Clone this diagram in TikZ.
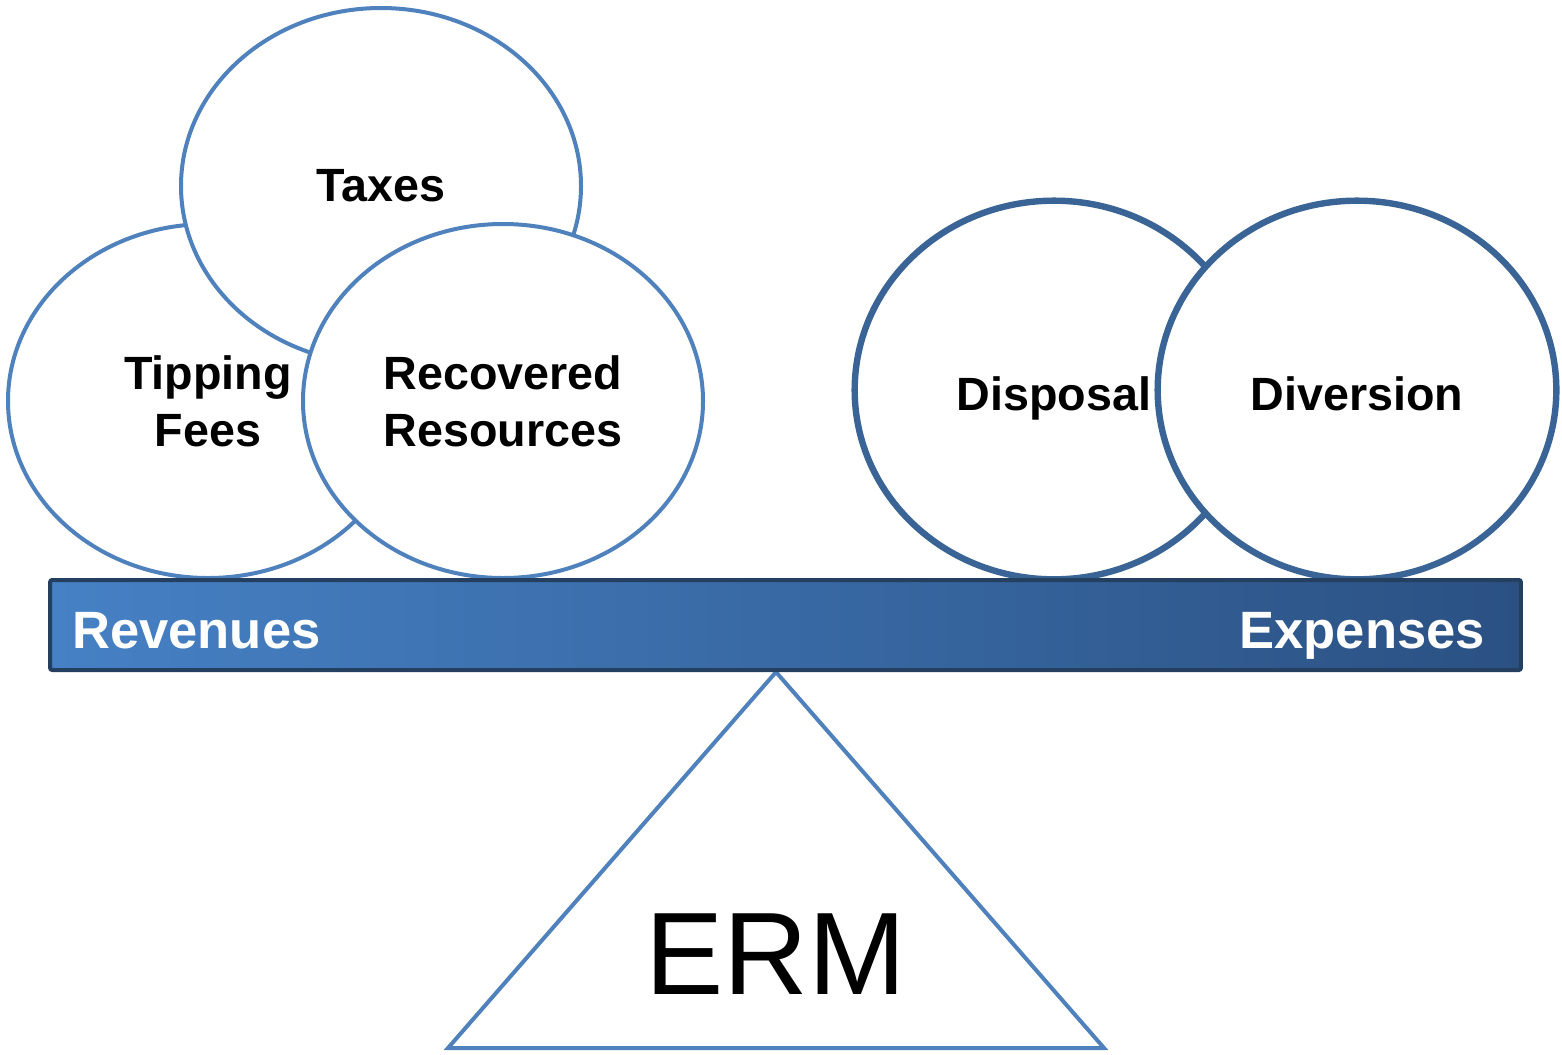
\documentclass[tikz,border=0pt]{standalone}
\usepackage{fontspec}
\setmainfont{Liberation Sans}
\usetikzlibrary{shapes.geometric}
\definecolor{lblue}{HTML}{4F81BD}
\definecolor{rblue}{HTML}{3A6496}
\definecolor{barL}{HTML}{4681C5}
\definecolor{barR}{HTML}{2B5183}
\definecolor{barB}{HTML}{253F61}
\tikzset{
  lcirc/.style={ellipse, draw=lblue, line width=3pt, fill=white, inner sep=0pt,
    minimum width=300pt, minimum height=265.5pt, align=center,
    font=\fontsize{35}{43}\selectfont\bfseries},
  rcirc/.style={ellipse, draw=rblue, line width=4.8pt, fill=white, inner sep=0pt,
    minimum width=299pt, minimum height=284pt, align=center,
    text height=30pt, text depth=0pt,
    font=\fontsize{35}{43}\selectfont\bfseries},
  bartext/.style={text=white, inner sep=0pt, font=\fontsize{39.4}{47}\selectfont\bfseries},
}
\begin{document}
\begin{tikzpicture}[x=0.75pt,y=-0.75pt]
\useasboundingbox[fill=white] (0,0) rectangle (1562,1054);
% left circles
\node[lcirc] (tip) at (208,401) {Tipping\\Fees};
\node[lcirc, minimum height=267pt] (tax) at (381,186) {Taxes};
\node[lcirc] (rec) at (503,401) {Recovered\\Resources};
% right circles
\node[rcirc] (dis) at (1054,390) {Disposal};
\node[rcirc] (div) at (1357,390) {Diversion};
% fulcrum
\coordinate (apex) at (776,672);
\coordinate (bl) at (448,1048);
\coordinate (br) at (1104,1048);
\draw[lblue, line width=3pt, line join=miter] (apex) -- (bl) -- (br) -- cycle;
\node[font=\fontsize{88}{94}\selectfont, inner sep=0pt] (erm) at (776,954) {ERM};
% beam
\node[rectangle, draw=barB, line width=3pt, rounded corners=1.5pt,
  left color=barL, right color=barR, minimum width=1103pt, minimum height=67.5pt,
  inner sep=0pt] (bar) at (785.5,625) {};
\node[bartext, anchor=base west] (rev) at (72,648) {Revenues};
\node[bartext, anchor=base east] (exp) at (1485,648) {Expenses};
\end{tikzpicture}
\end{document}
